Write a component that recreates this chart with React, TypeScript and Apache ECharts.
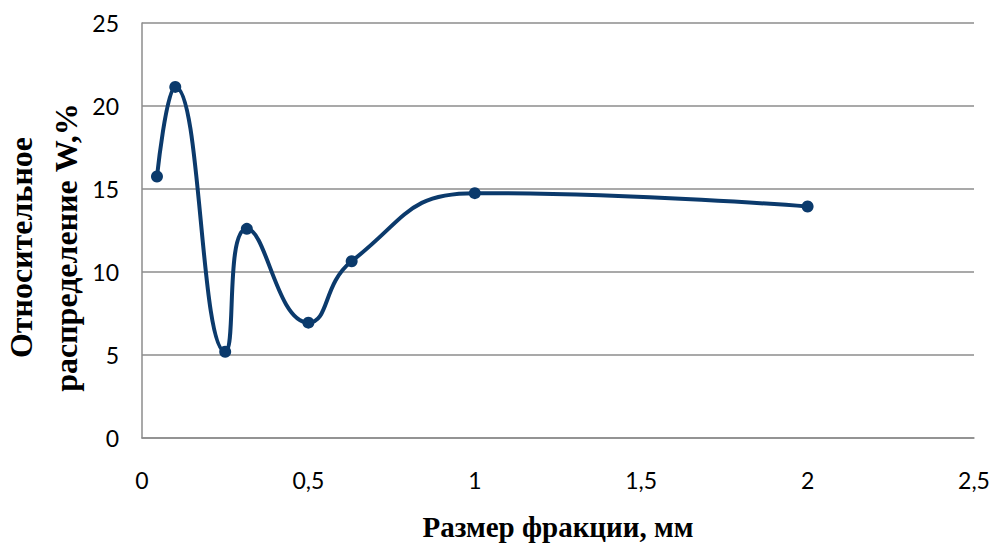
import React, { useEffect, useRef } from "react";
import * as echarts from "echarts";

const sizes = [0.045, 0.1, 0.25, 0.315, 0.5, 0.63, 1.0, 2.0];
const shares = [15.75, 21.15, 5.2, 12.6, 6.95, 10.65, 14.75, 13.95];
const xTicks = { min: 0, max: 2.5, interval: 0.5 };
const yTicks = { min: 0, max: 25, interval: 5 };
const xTitle = "Размер фракции, мм";
const yTitle = "Относительное\nраспределение W,%";

export default function App() {
  const ref = useRef<HTMLDivElement>(null);
  useEffect(() => {
    document.body.style.margin = "0";
    if (!ref.current) return;
    const chart = echarts.init(ref.current, undefined, { renderer: "svg" });
    const tickFont = { fontFamily: "Lato, 'Open Sans', sans-serif", fontSize: 23, color: "#000" };
    chart.setOption({
      animation: false,
      backgroundColor: "#fff",
      grid: { left: 142, right: 18, top: 23, bottom: 107, containLabel: false, outerBoundsMode: "none" },
      xAxis: {
        type: "value",
        min: xTicks.min,
        max: xTicks.max,
        interval: xTicks.interval,
        splitLine: { show: false },
        axisLine: { show: true, lineStyle: { color: "#8c8c8c", width: 1.5 } },
        axisTick: { show: false },
        axisLabel: {
          ...tickFont,
          margin: 30,
          formatter: (v: number) => String(v).replace(".", ","),
        },
        name: xTitle,
        nameLocation: "middle",
        nameGap: 74,
        nameMoveOverlap: false,
        nameTextStyle: { fontFamily: "'Liberation Serif', serif", fontWeight: "bold", fontSize: 29, color: "#000" },
      },
      yAxis: {
        type: "value",
        min: yTicks.min,
        max: yTicks.max,
        interval: yTicks.interval,
        splitLine: { show: true, lineStyle: { color: "#8c8c8c", width: 1.5 } },
        axisLine: { show: true, lineStyle: { color: "#8c8c8c", width: 1.5 } },
        axisTick: { show: false },
        axisLabel: { ...tickFont, margin: 23 },
        name: yTitle,
        nameLocation: "middle",
        nameRotate: 90,
        nameGap: 54,
        nameMoveOverlap: false,
        nameTextStyle: {
          fontFamily: "'Liberation Serif', serif",
          fontWeight: "bold",
          fontSize: 32,
          lineHeight: 45,
          color: "#000",
          padding: [0, 34, 0, 0],
        },
      },
      series: [
        {
          type: "line",
          data: sizes.map((x, i) => [x, shares[i]]),
          smooth: 0.5,
          symbol: "circle",
          symbolSize: 12,
          lineStyle: { color: "#0b3a6c", width: 4 },
          itemStyle: { color: "#0b3a6c" },
        },
      ],
    });
    return () => chart.dispose();
  }, []);
  return <div ref={ref} style={{ width: 992, height: 545 }} />;
}
